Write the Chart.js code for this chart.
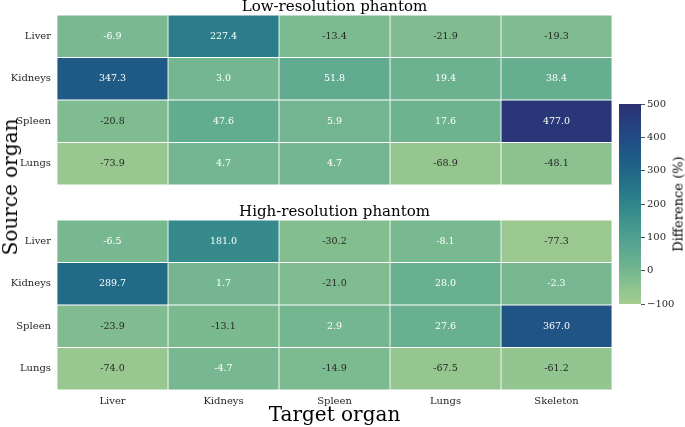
<!DOCTYPE html>
<html>
<head>
<meta charset="utf-8">
<script src="https://cdn.jsdelivr.net/npm/chart.js@4.4.1/dist/chart.umd.min.js"></script>
<style>
    body { margin: 0; background: #fff; }
    #wrap { position: relative; width: 685px; height: 427px; overflow: hidden; font-family: 'DejaVu Serif', serif; color: #000; }
    canvas { position: absolute; }
    .vlabel { position: absolute; white-space: nowrap; transform: translate(-50%, -50%) rotate(-90deg); line-height: 1; }
</style>
</head>
<body>
<div id="wrap">
    <canvas id="lowChart" width="615" height="188" style="left:0;top:0"></canvas>
    <canvas id="highChart" width="615" height="222" style="left:0;top:205px"></canvas>
    <canvas id="barCanvas" width="85" height="220" style="left:600px;top:95px"></canvas>
    <div class="vlabel" style="left:10px;top:187px;font-size:20px">Source organ</div>
    <div class="vlabel" style="left:678px;top:204px;font-size:13px">Difference (%)</div>
</div>
<script>
// Data
const targets = ['Liver', 'Kidneys', 'Spleen', 'Lungs', 'Skeleton'];
const sources = ['Liver', 'Kidneys', 'Spleen', 'Lungs'];

// rows = source organ, columns = target organ
const lowRes = [
    [-6.9, 227.4, -13.4, -21.9, -19.3],
    [347.3, 3.0, 51.8, 19.4, 38.4],
    [-20.8, 47.6, 5.9, 17.6, 477.0],
    [-73.9, 4.7, 4.7, -68.9, -48.1]
];
const highRes = [
    [-6.5, 181.0, -30.2, -8.1, -77.3],
    [289.7, 1.7, -21.0, 28.0, -2.3],
    [-23.9, -13.1, 2.9, 27.6, 367.0],
    [-74.0, -4.7, -14.9, -67.5, -61.2]
];

const barTicks = [-100, 0, 100, 200, 300, 400, 500];
const VMIN = -100, VMAX = 500;

// crest-like colormap
const CREST = [
    [0.00, [165, 205, 144]],
    [0.10, [136, 192, 143]],
    [0.20, [108, 178, 144]],
    [0.30, [86, 164, 144]],
    [0.40, [66, 150, 142]],
    [0.50, [48, 133, 139]],
    [0.60, [36, 115, 136]],
    [0.70, [30, 97, 135]],
    [0.80, [32, 80, 133]],
    [0.90, [37, 64, 127]],
    [1.00, [44, 48, 114]]
];
const FONT = "'DejaVu Serif', serif";
const DARK = '#262626';

function crest(v) {
    const t = Math.min(1, Math.max(0, (v - VMIN) / (VMAX - VMIN)));
    for (let i = 1; i < CREST.length; i++) {
        if (t <= CREST[i][0]) {
            const [t0, c0] = CREST[i - 1];
            const [t1, c1] = CREST[i];
            const f = (t - t0) / (t1 - t0);
            const c = c0.map((x, k) => Math.round(x + (c1[k] - x) * f));
            return `rgb(${c[0]},${c[1]},${c[2]})`;
        }
    }
    const c = CREST[CREST.length - 1][1];
    return `rgb(${c[0]},${c[1]},${c[2]})`;
}

// cell text plugin
const cellLabels = {
    id: 'cellLabels',
    afterDatasetsDraw(chart, args, opts) {
        const ctx = chart.ctx;
        const values = opts.values;
        ctx.save();
        ctx.font = '9.5px ' + FONT;
        ctx.textAlign = 'center';
        ctx.textBaseline = 'middle';
        chart.data.datasets.forEach((ds, j) => {
            chart.getDatasetMeta(j).data.forEach((el, i) => {
                const v = values[i][j];
                const p = el.getCenterPoint();
                ctx.fillStyle = v < -10 ? DARK : '#ffffff';
                ctx.fillText(v.toFixed(1), p.x, p.y);
            });
        });
        ctx.restore();
    }
};

function heatmap(id, title, values, showX) {
    const datasets = targets.map((t, j) => ({
        label: t,
        data: sources.map(() => 1),
        backgroundColor: sources.map((s, i) => crest(values[i][j])),
        borderColor: '#ffffff',
        borderWidth: 0.75,
        borderSkipped: false,
        barPercentage: 1,
        categoryPercentage: 1
    }));

    const scales = {
        x: { stacked: true, min: 0, max: targets.length, display: false },
        y: {
            stacked: true,
            grid: { display: false, drawTicks: false },
            border: { display: false },
            ticks: { color: DARK, font: { family: FONT, size: 10 }, padding: 6 },
            afterFit(s) { s.width = 57; s.paddingTop = 0; s.paddingBottom = 0; }
        }
    };
    if (showX) {
        scales.xl = {
            type: 'category',
            labels: targets,
            position: 'bottom',
            offset: true,
            grid: { display: false, drawTicks: false },
            border: { display: false },
            ticks: { color: DARK, font: { family: FONT, size: 10 }, padding: 5 },
            title: {
                display: true,
                text: 'Target organ',
                color: '#000',
                font: { family: FONT, size: 20, lineHeight: 1 },
                padding: { top: 0, bottom: 1 }
            },
            afterFit(s) { s.height = 37; }
        };
    }

    return new Chart(document.getElementById(id), {
        type: 'bar',
        data: { labels: sources, datasets },
        options: {
            indexAxis: 'y',
            responsive: false,
            animation: false,
            layout: { padding: { left: 0, right: 3, top: 0, bottom: showX ? 0 : 3 } },
            scales,
            plugins: {
                legend: { display: false },
                tooltip: { enabled: false },
                title: {
                    display: true,
                    text: title,
                    fullSize: false,
                    color: '#000',
                    font: { family: FONT, size: 15, weight: 'normal', lineHeight: 1 },
                    padding: { top: 0, bottom: 0 }
                },
                cellLabels: { values }
            }
        },
        plugins: [cellLabels]
    });
}

heatmap('lowChart', 'Low-resolution phantom', lowRes, false);
heatmap('highChart', 'High-resolution phantom', highRes, true);

// Colorbar
new Chart(document.getElementById('barCanvas'), {
    type: 'bar',
    data: {
        labels: [''],
        datasets: [{
            data: [[VMIN, VMAX]],
            barPercentage: 1,
            categoryPercentage: 1,
            borderWidth: 0,
            backgroundColor(c) {
                const area = c.chart.chartArea;
                if (!area) return crest(200);
                const g = c.chart.ctx.createLinearGradient(0, area.bottom, 0, area.top);
                CREST.forEach(([t, rgb]) => g.addColorStop(t, `rgb(${rgb.join(',')})`));
                return g;
            }
        }]
    },
    options: {
        responsive: false,
        animation: false,
        layout: { padding: { left: 19, right: 0, top: 9, bottom: 11 } },
        scales: {
            x: { display: false },
            y: {
                position: 'right',
                min: VMIN,
                max: VMAX,
                afterBuildTicks(s) { s.ticks = barTicks.map(v => ({ value: v })); },
                grid: { drawOnChartArea: false, drawTicks: true, tickLength: 4, color: DARK, lineWidth: 0.8 },
                border: { display: false },
                ticks: {
                    color: DARK,
                    padding: 2,
                    font: { family: FONT, size: 10 },
                    callback: v => v < 0 ? '\u2212' + Math.abs(v) : String(v)
                },
                afterFit(s) { s.width = 44; }
            }
        },
        plugins: { legend: { display: false }, tooltip: { enabled: false } }
    }
});
</script>
</body>
</html>
